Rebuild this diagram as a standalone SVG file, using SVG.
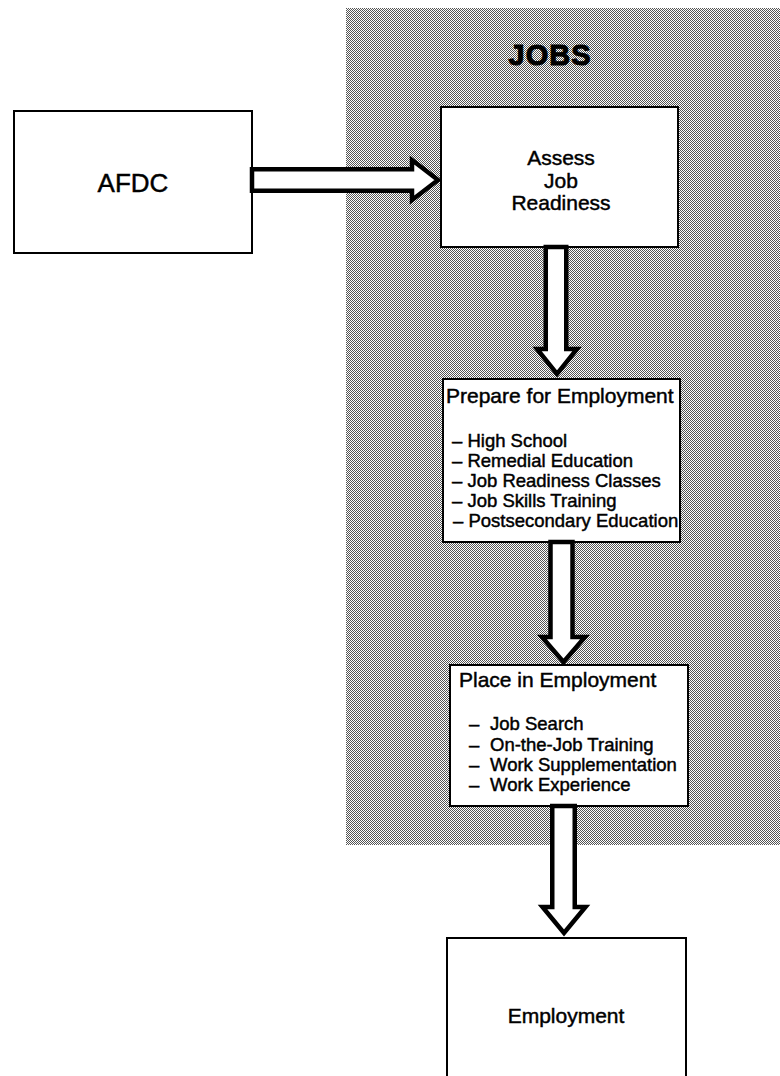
<svg xmlns="http://www.w3.org/2000/svg" width="780" height="1076" viewBox="0 0 780 1076">
<style>
.box{fill:#fff;stroke:#000;stroke-width:2}
.arrow{fill:#fff;stroke:#000;stroke-width:4.5;stroke-linejoin:miter;stroke-miterlimit:10}
text{font-family:"Liberation Sans",Arial,Helvetica,sans-serif;fill:#000;stroke:#000;stroke-width:0.45}
.t{font-size:21px}
.li{font-size:18.5px}
.c{text-anchor:middle}
</style>
<defs>
<pattern id="dots" width="2" height="2" patternUnits="userSpaceOnUse">
<rect width="2" height="2" fill="#fff"/>
<rect width="1" height="1" fill="#555"/>
<rect x="1" y="1" width="1" height="1" fill="#555"/>
</pattern>
</defs>
<rect width="780" height="1076" fill="#fff"/>
<g id="jobs-region">
<rect x="346" y="8" width="434" height="837" fill="url(#dots)" shape-rendering="crispEdges"/>
<text x="550" y="65" class="c" font-size="29" font-weight="bold" letter-spacing="1" style="stroke-width:1">JOBS</text>
</g>
<g id="afdc">
<rect class="box" x="14" y="111" width="238" height="142"/>
<text x="133" y="192" class="c" font-size="26">AFDC</text>
</g>
<g id="assess">
<rect class="box" x="441" y="107" width="237" height="140"/>
<text class="t c" x="561" y="165">Assess</text>
<text class="t c" x="561" y="188">Job</text>
<text class="t c" x="561" y="210">Readiness</text>
</g>
<g id="prepare">
<rect class="box" x="443" y="379" width="237" height="163"/>
<text class="t" x="446" y="403">Prepare for Employment</text>
<text class="li" x="452" y="447">– High School</text>
<text class="li" x="452" y="467">– Remedial Education</text>
<text class="li" x="452" y="487">– Job Readiness Classes</text>
<text class="li" x="452" y="507">– Job Skills Training</text>
<text class="li" x="453" y="527">– Postsecondary Education</text>
</g>
<g id="place">
<rect class="box" x="450" y="665" width="238" height="141"/>
<text class="t" x="459" y="687">Place in Employment</text>
<text class="li" x="469" y="730">–</text><text class="li" x="490" y="730">Job Search</text>
<text class="li" x="469" y="751">–</text><text class="li" x="490" y="751">On-the-Job Training</text>
<text class="li" x="469" y="771">–</text><text class="li" x="490" y="771">Work Supplementation</text>
<text class="li" x="469" y="791">–</text><text class="li" x="490" y="791">Work Experience</text>
</g>
<g id="employment">
<rect class="box" x="447" y="938" width="239" height="150"/>
<text class="t c" x="566" y="1023">Employment</text>
</g>
<g id="connectors">
<path class="arrow" d="M252,169.25 H412 V160 L438,180 L412,200 V190.75 H252 Z"/>
<path class="arrow" d="M545.75,247 V349 H537 L557,374 L577,349 H566.25 V247 Z"/>
<path class="arrow" d="M550.5,542 V637 H542 L563.5,662 L585,637 H572.5 V542 Z"/>
<path class="arrow" d="M552.25,806 V907 H542.5 L564,933 L585.5,907 H574.75 V806 Z"/>
</g>
</svg>
